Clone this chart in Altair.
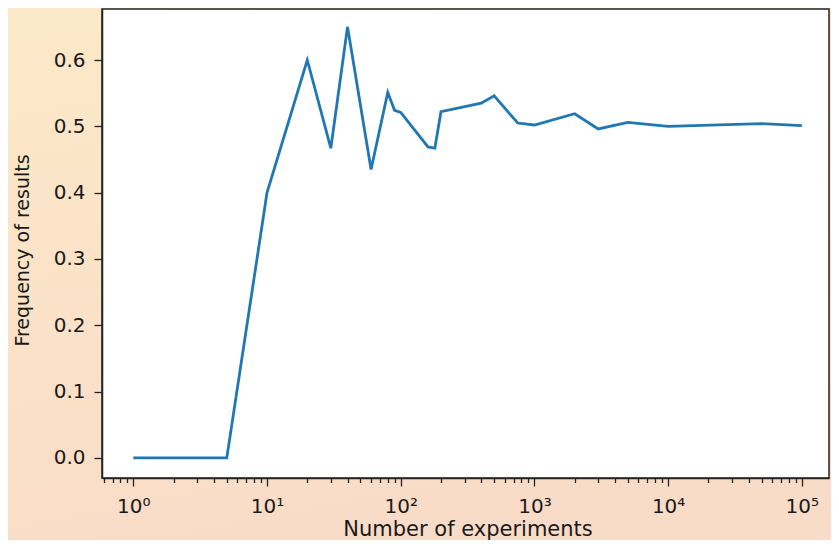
import altair as alt
import pandas as pd

# ---- data ----
experiments = [1, 2, 3, 4, 5, 10, 20, 30, 40, 60, 80, 90, 100, 160, 180, 200,
               400, 500, 750, 1000, 2000, 3000, 5000, 10000, 50000, 100000]
frequency = [0.0, 0.0, 0.0, 0.0, 0.0, 0.40, 0.60, 0.467, 0.650, 0.435, 0.551,
             0.524, 0.521, 0.469, 0.467, 0.522, 0.535, 0.546, 0.505, 0.502,
             0.519, 0.496, 0.506, 0.500, 0.504, 0.501]

x_major_ticks = [1, 10, 100, 1000, 10000, 100000]
x_major_labels = ["10\u2070", "10\u00b9", "10\u00b2", "10\u00b3", "10\u2074", "10\u2075"]
y_ticks = [0.0, 0.1, 0.2, 0.3, 0.4, 0.5, 0.6]

x_title = "Number of experiments"
y_title = "Frequency of results"

# ---- layout ----
W, H = 727, 469
PAD = {"left": 94, "top": 1, "right": 2, "bottom": 62}
x_domain = [0.583, 159700]
y_domain = [-0.0302, 0.6769]

minor_ticks = []
for d in range(-1, 6):
    for m in range(1, 10):
        v = m * 10 ** d if d >= 0 else m / 10
        if x_domain[0] <= v <= x_domain[1]:
            minor_ticks.append(v)

label_expr = " : ".join(
    f"datum.value == {v} ? '{lab}'" for v, lab in zip(x_major_ticks, x_major_labels)
) + " : ''"
major_test = "indexof([" + ",".join(str(v) for v in x_major_ticks) + "], datum.value) >= 0"

df = pd.DataFrame({"n": experiments, "freq": frequency})
one = pd.DataFrame({"k": [0]})

FONT = "DejaVu Sans"
TXT = "#1a1a1a"
SPINE = "#222222"

bg = alt.Chart(one).mark_rect(
    fill=alt.LinearGradient(
        gradient="linear",
        stops=[alt.GradientStop(color="#FCE9C7", offset=0),
               alt.GradientStop(color="#F9DCC8", offset=1)],
        x1=0, y1=0, x2=0.3, y2=1,
    ),
    clip=False,
).encode(x=alt.value(-PAD["left"]), x2=alt.value(W + PAD["right"]),
         y=alt.value(-PAD["top"]), y2=alt.value(H + PAD["bottom"]))

plot_bg = alt.Chart(one).mark_rect(
    fill="white", stroke=SPINE, strokeWidth=1.5, clip=False
).encode(x=alt.value(0), x2=alt.value(W), y=alt.value(0), y2=alt.value(H))

line = alt.Chart(df).mark_line(color="#1f77b4", strokeWidth=2.8, clip=False).encode(
    x=alt.X(
        "n:Q",
        scale=alt.Scale(type="log", domain=x_domain, nice=False),
        axis=alt.Axis(
            values=minor_ticks,
            labelExpr=label_expr,
            labelOverlap=False,
            labelFlush=False,
            labelFont=FONT,
            labelFontSize=20,
            labelColor=TXT,
            labelPadding=10,
            tickSize={"condition": {"test": major_test, "value": 8}, "value": 4.5},
            tickColor=SPINE,
            tickWidth=1.3,
            domainColor=SPINE,
            domainWidth=1.5,
            grid=False,
            zindex=1,
            title=x_title,
            titleFont=FONT,
            titleFontSize=21,
            titleFontWeight="normal",
            titleColor=TXT,
            titleX=W / 2 + 2,
            titleY=57,
            titleAlign="center",
            titleBaseline="alphabetic",
            titleAngle=0,
        ),
    ),
    y=alt.Y(
        "freq:Q",
        scale=alt.Scale(domain=y_domain, nice=False, zero=False),
        axis=alt.Axis(
            values=y_ticks,
            format=".1f",
            labelFont=FONT,
            labelFontSize=20,
            labelColor=TXT,
            labelPadding=9,
            tickSize=8,
            tickColor=SPINE,
            tickWidth=1.3,
            domainColor=SPINE,
            domainWidth=1.5,
            grid=False,
            zindex=1,
            title=y_title,
            titleFont=FONT,
            titleFontSize=19,
            titleFontWeight="normal",
            titleColor=TXT,
            titleX=-80,
            titleY=241,
            titleAngle=270,
            titleAlign="center",
            titleBaseline="middle",
        ),
    ),
)

chart = alt.layer(bg, plot_bg, line).properties(
    width=W, height=H,
    autosize=alt.AutoSizeParams(type="none"),
    padding=PAD,
    background="#FAE2C7",
).configure_view(stroke=None)

chart.save("out.html", embed_options={"renderer": "svg", "actions": False})
